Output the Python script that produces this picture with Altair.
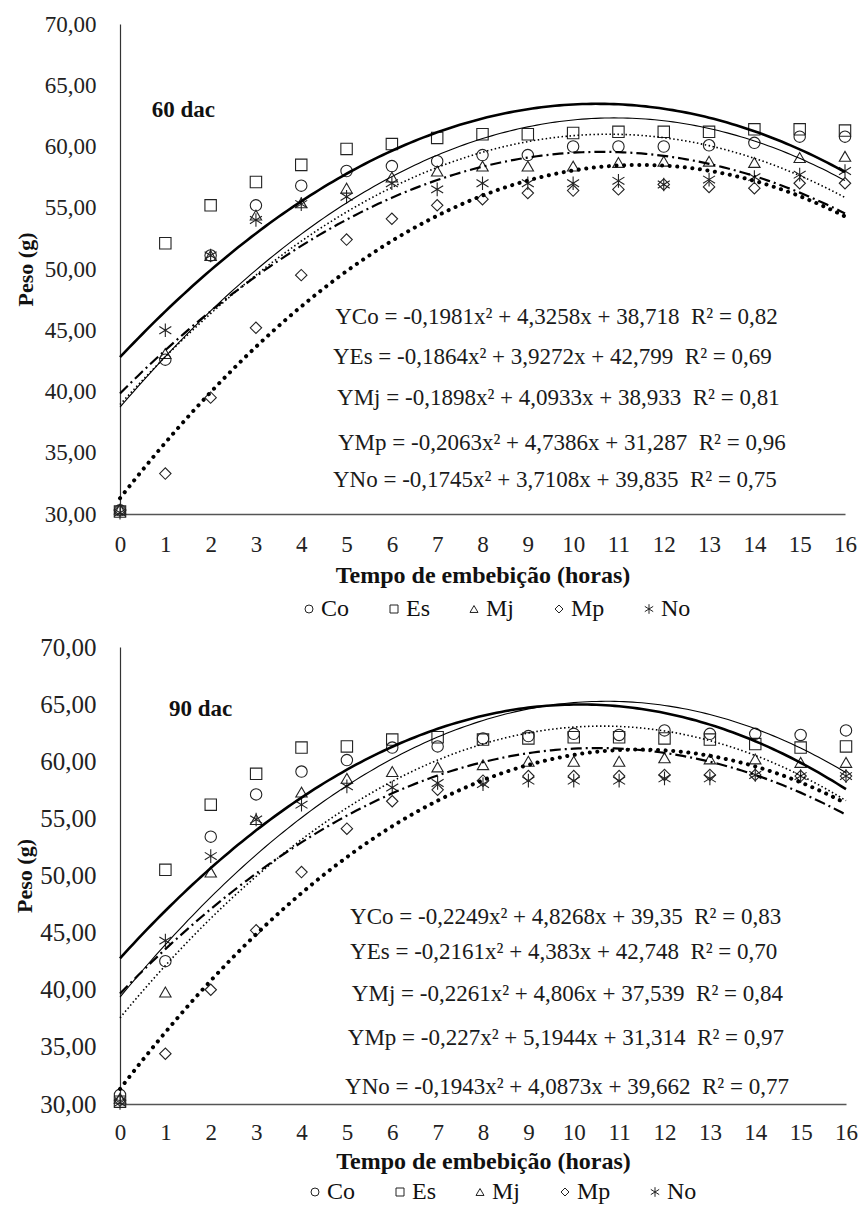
import altair as alt
import pandas as pd

SERIES = ["Co", "Es", "Mj", "Mp", "No"]
HOURS = list(range(17))
Y_TICKS = [30, 35, 40, 45, 50, 55, 60, 65, 70]

# ---- 60 dac: observed seed weight (g) per hour ----
co_60 = [30.3, 42.6, 51.1, 55.2, 56.8, 58.0, 58.4, 58.8, 59.3, 59.3, 60.0, 60.0, 60.0, 60.1, 60.3, 60.8, 60.8]
es_60 = [30.2, 52.1, 55.2, 57.1, 58.5, 59.8, 60.2, 60.7, 61.0, 61.0, 61.1, 61.2, 61.2, 61.2, 61.4, 61.4, 61.3]
mj_60 = [30.4, 43.1, 51.1, 54.4, 55.4, 56.6, 57.5, 58.0, 58.4, 58.4, 58.4, 58.7, 58.8, 58.8, 58.7, 59.1, 59.2]
mp_60 = [30.3, 33.3, 39.5, 45.2, 49.5, 52.4, 54.1, 55.2, 55.7, 56.2, 56.4, 56.5, 56.9, 56.7, 56.6, 57.0, 57.0]
no_60 = [30.1, 45.0, 51.1, 54.0, 55.3, 55.9, 57.0, 56.5, 57.0, 57.0, 57.0, 57.2, 56.9, 57.3, 57.5, 57.7, 58.0]

# regression coefficients printed on the 60 dac panel
a_60 = [-0.1981, -0.1864, -0.1898, -0.2063, -0.1745]
b_60 = [4.3258, 3.9272, 4.0933, 4.7386, 3.7108]
c_60 = [38.718, 42.799, 38.933, 31.287, 39.835]
r2_60 = ["0,82", "0,69", "0,81", "0,96", "0,75"]

# ---- 90 dac ----
co_90 = [30.8, 42.5, 53.4, 57.1, 59.1, 60.1, 61.2, 61.3, 62.0, 62.2, 62.4, 62.3, 62.7, 62.4, 62.4, 62.3, 62.7]
es_90 = [30.2, 50.5, 56.2, 58.9, 61.2, 61.3, 61.9, 62.1, 61.9, 62.0, 62.1, 62.1, 62.0, 61.9, 61.5, 61.2, 61.3]
mj_90 = [30.5, 39.8, 50.3, 54.9, 57.3, 58.5, 59.1, 59.5, 59.7, 60.0, 60.0, 60.0, 60.3, 60.2, 60.2, 59.9, 59.9]
mp_90 = [30.3, 34.4, 40.0, 45.2, 50.3, 54.1, 56.5, 57.5, 58.3, 58.7, 58.7, 58.7, 58.8, 58.8, 58.8, 58.7, 58.7]
no_90 = [30.1, 44.3, 51.7, 54.9, 56.2, 57.8, 57.7, 58.1, 58.0, 58.3, 58.3, 58.3, 58.5, 58.5, 58.8, 58.7, 58.7]

a_90 = [-0.2249, -0.2161, -0.2261, -0.227, -0.1943]
b_90 = [4.8268, 4.383, 4.806, 5.1944, 4.0873]
c_90 = [39.35, 42.748, 37.539, 31.314, 39.662]
r2_90 = ["0,83", "0,70", "0,84", "0,97", "0,77"]

# ---- annotation placement (data units) ----
EQ_X_60 = [4.75, 4.70, 4.79, 4.81, 4.70]
EQ_Y_60 = [46.08, 42.82, 39.47, 35.80, 32.78]
EQ_X_90 = [5.07, 5.07, 5.11, 5.02, 4.96]
EQ_Y_90 = [46.4, 43.3, 39.6, 35.75, 31.45]

STAR = "M0,-1.2L0,1.2M-1.05,-0.65L1.05,0.65M-1.05,0.65L1.05,-0.65"
SHAPES = ["circle", "square", "triangle-up", "diamond", STAR]

LINE_STYLE = {
    "Co": dict(strokeWidth=1.1),
    "Es": dict(strokeWidth=2.6),
    "Mj": dict(strokeWidth=1.6, strokeDash=[1.5, 2.5]),
    "Mp": dict(strokeWidth=4, strokeDash=[0.1, 7.5], strokeCap="round"),
    "No": dict(strokeWidth=2.2, strokeDash=[11, 4, 2, 4]),
}

FONT = "Liberation Serif"


def fmt(v):
    return str(v).replace(".", ",")


def panel(obs, a, b, c, r2, eq_x, eq_y, tag, tag_x, tag_y, w, h,
          title_pad, ylab_size, lab_pad, tit_pad, leg_x, leg_y):
    pts = pd.DataFrame(
        [{"hora": hh, "peso": v, "serie": s}
         for s, vals in zip(SERIES, obs) for hh, v in zip(HOURS, vals)]
    )
    coef = pd.DataFrame({"serie": SERIES, "a": a, "b": b, "c": c})
    eqs = pd.DataFrame({
        "hora": eq_x, "peso": eq_y,
        "txt": [f"Y{s} = {fmt(aa)}x\u00b2 + {fmt(bb)}x + {fmt(cc)} \u00a0R\u00b2 = {rr}"
                for s, aa, bb, cc, rr in zip(SERIES, a, b, c, r2)],
    })
    tagdf = pd.DataFrame({"hora": [tag_x], "peso": [tag_y], "txt": [tag]})

    x = alt.X("hora:Q", scale=alt.Scale(domain=[0, 16], nice=False),
              axis=alt.Axis(values=HOURS, title="Tempo de embebição (horas)",
                            grid=False, ticks=False, labelFlush=False,
                            labelFont=FONT, titleFont=FONT,
                            labelFontSize=23, labelPadding=lab_pad, labelColor="#222",
                            titleFontSize=24, titleFontWeight="bold",
                            titlePadding=tit_pad, titleColor="#111",
                            domainColor="#555", domainWidth=1.5))
    y = alt.Y("peso:Q", scale=alt.Scale(domain=[30, 70], nice=False, zero=False),
              axis=alt.Axis(values=Y_TICKS, title="Peso (g)",
                            labelExpr="replace(format(datum.value, '.2f'), '.', ',')",
                            grid=False, ticks=False,
                            labelFont=FONT, titleFont=FONT,
                            labelFontSize=ylab_size, labelPadding=24, labelColor="#222",
                            titleFontSize=22, titleFontWeight="bold",
                            titlePadding=title_pad, titleColor="#111",
                            domainColor="#333", domainWidth=1.2))

    points = alt.Chart(pts).mark_point(filled=False, size=130, strokeWidth=1.1,
                                       color="#222", opacity=1).encode(
        x=x, y=y,
        shape=alt.Shape("serie:N", scale=alt.Scale(domain=SERIES, range=SHAPES),
                        legend=alt.Legend(title=None, orient="none",
                                          legendX=leg_x, legendY=leg_y,
                                          direction="horizontal",
                                          labelFontSize=24, labelColor="#111",
                                          labelFont=FONT,
                                          symbolSize=64, symbolStrokeWidth=1,
                                          symbolStrokeColor="#222",
                                          labelOffset=0, columnPadding=32,
                                          padding=0)),
    )

    layers = [points]
    for s in SERIES:
        layers.append(
            alt.Chart(coef).transform_filter(alt.datum.serie == s)
            .transform_calculate(i="sequence(0, 161)")
            .transform_flatten(["i"])
            .transform_calculate(hora="datum.i / 10")
            .transform_calculate(peso="datum.a*datum.hora*datum.hora + datum.b*datum.hora + datum.c")
            .mark_line(color="black", **LINE_STYLE[s])
            .encode(x=x, y=y)
        )

    layers.append(
        alt.Chart(eqs).mark_text(align="left", baseline="middle", fontSize=23,
                                 font=FONT, color="#1a1a1a")
        .encode(x=x, y=y, text="txt:N")
    )
    layers.append(
        alt.Chart(tagdf).mark_text(align="left", baseline="middle", fontSize=23,
                                   font=FONT, fontWeight="bold", color="#111")
        .encode(x=x, y=y, text="txt:N")
    )
    return alt.layer(*layers).properties(width=w, height=h)


top = panel([co_60, es_60, mj_60, mp_60, no_60], a_60, b_60, c_60, r2_60,
            EQ_X_60, EQ_Y_60, "60 dac", 0.70, 62.94, 725, 490,
            7, 23, 19, 7, 177, 573)
bottom = panel([co_90, es_90, mj_90, mp_90, no_90], a_90, b_90, c_90, r2_90,
               EQ_X_90, EQ_Y_90, "90 dac", 1.08, 64.6, 726, 457,
               3, 25, 17, 5, 183, 533)

chart = (
    alt.vconcat(top, bottom, spacing=14)
    .resolve_scale(shape="independent")
    .resolve_legend(shape="independent")
    .properties(padding={"left": 5, "top": 5, "right": 0, "bottom": 0})
    .configure(font=FONT, background="white")
    .configure_view(stroke=None)
)

chart.save("out.html", embed_options={"renderer": "svg", "actions": False})
